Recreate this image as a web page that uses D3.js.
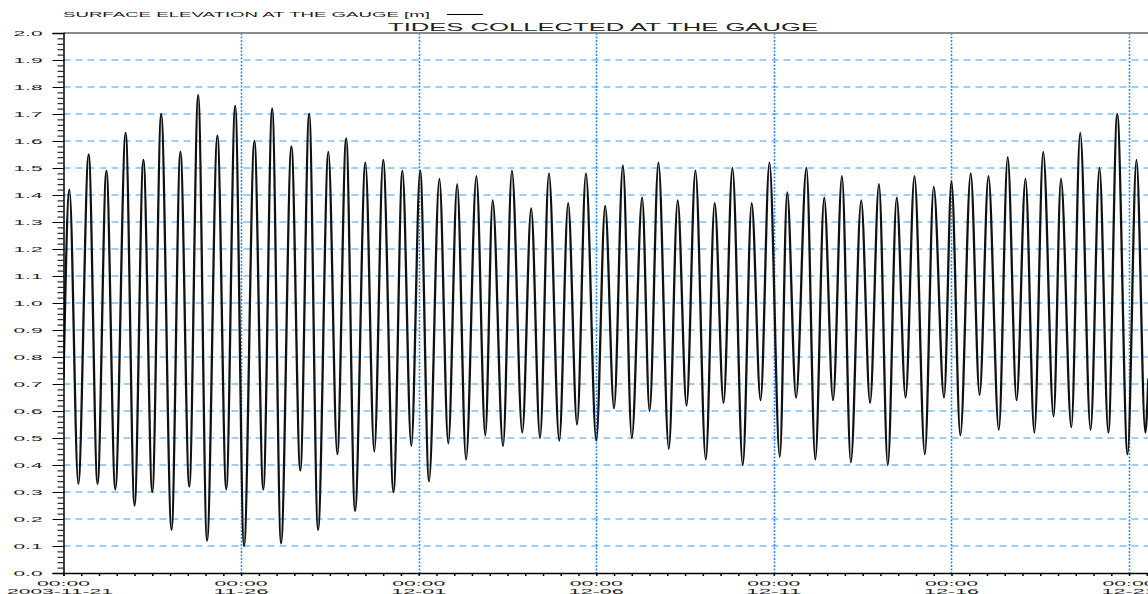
<!DOCTYPE html>
<html>
<head>
<meta charset="utf-8">
<script src="https://cdn.jsdelivr.net/npm/d3@7/dist/d3.min.js"></script>
<style>
  html, body { margin: 0; padding: 0; background: #fff; overflow: hidden; }
  text { font-family: "Liberation Sans", Arial, sans-serif; fill: #222; }
</style>
</head>
<body>
<figure id="tides" style="margin:0"></figure>
<script>
// hours after 2003-11-21 00:00 and level [m] of each high / low water
const highHours = [4, 17, 29, 42, 54, 66, 79, 91, 104, 116, 129, 141, 154, 166, 179, 191, 204, 216, 229, 241,
  254, 266, 279, 290, 303, 316, 328, 341, 353, 366, 378, 391, 402, 415, 427, 440, 452, 465, 477, 489,
  502, 514, 526, 539, 551, 563, 575, 588, 600, 613, 625, 638, 650, 662, 674, 687, 700, 712, 725];
const highLevels = [1.42, 1.55, 1.49, 1.63, 1.53, 1.70, 1.56, 1.77, 1.62, 1.73, 1.60, 1.72, 1.58, 1.70, 1.56, 1.61, 1.52, 1.53, 1.49, 1.49,
  1.46, 1.44, 1.47, 1.38, 1.49, 1.35, 1.48, 1.37, 1.48, 1.36, 1.51, 1.39, 1.52, 1.38, 1.49, 1.37, 1.50, 1.37, 1.52, 1.41,
  1.50, 1.39, 1.47, 1.38, 1.44, 1.39, 1.47, 1.43, 1.45, 1.48, 1.47, 1.54, 1.46, 1.56, 1.46, 1.63, 1.50, 1.70, 1.53];
const lowHours = [10, 23, 35, 48, 60, 73, 85, 97, 110, 122, 135, 147, 160, 172, 185, 197, 210, 223, 235, 247,
  260, 272, 285, 297, 310, 322, 335, 347, 360, 372, 384, 396, 409, 421, 434, 446, 459, 471, 484, 495,
  508, 520, 532, 545, 557, 569, 582, 595, 606, 619, 632, 644, 656, 669, 681, 694, 706, 719, 731];
const lowLevels = [0.33, 0.33, 0.31, 0.25, 0.30, 0.16, 0.32, 0.12, 0.31, 0.10, 0.31, 0.11, 0.38, 0.16, 0.44, 0.23, 0.45, 0.30, 0.47, 0.34,
  0.48, 0.42, 0.51, 0.47, 0.52, 0.50, 0.49, 0.55, 0.49, 0.61, 0.50, 0.60, 0.46, 0.62, 0.42, 0.63, 0.40, 0.64, 0.43, 0.65,
  0.42, 0.64, 0.41, 0.63, 0.40, 0.65, 0.44, 0.65, 0.51, 0.66, 0.53, 0.64, 0.52, 0.58, 0.54, 0.53, 0.52, 0.44, 0.52];
// first and last sample of the record
const edgeHours = [0, 733];
const edgeLevels = [0.72, 0.72];

const yTicks = d3.range(0, 21).map(i => i / 10);
const dateLabels = ["2003-11-21", "11-26", "12-01", "12-06", "12-11", "12-16", "12-21"];

const width = 1148, height = 594;
const plotLeft = 63.5, plotRight = 1148, plotTop = 33, plotBottom = 573;
const start = new Date(Date.UTC(2003, 10, 21));
const hour = 3600 * 1000;

const samples = [];
edgeHours.forEach((h, i) => samples.push({ h: h, v: edgeLevels[i] }));
highHours.forEach((h, i) => samples.push({ h: h, v: highLevels[i] }));
lowHours.forEach((h, i) => samples.push({ h: h, v: lowLevels[i] }));
samples.sort((a, b) => a.h - b.h);

const x = d3.scaleUtc()
  .domain([start, new Date(start.getTime() + 732.8 * hour)])
  .range([plotLeft, plotRight]);
const y = d3.scaleLinear().domain([0, 2]).range([plotBottom, plotTop]);

const svg = d3.select("#tides").append("svg")
  .attr("width", width).attr("height", height)
  .style("display", "block");

// header (legend) and title
svg.append("text")
  .attr("x", 63).attr("y", 17)
  .attr("textLength", 367).attr("lengthAdjust", "spacingAndGlyphs")
  .style("font-size", "7.5px")
  .text("SURFACE ELEVATION AT THE GAUGE [m]");
svg.append("line")
  .attr("x1", 447).attr("x2", 483).attr("y1", 14.5).attr("y2", 14.5)
  .attr("stroke", "#000").attr("stroke-width", 1);
svg.append("text")
  .attr("x", 388).attr("y", 31)
  .attr("textLength", 430).attr("lengthAdjust", "spacingAndGlyphs")
  .style("font-size", "11px").style("font-weight", "300")
  .text("TIDES COLLECTED AT THE GAUGE");

// grid
const dayTicks = dateLabels.map((d, i) => new Date(start.getTime() + i * 5 * 24 * hour));
svg.append("g").selectAll("line")
  .data(yTicks.filter(t => t > 0 && t < 2))
  .enter().append("line")
  .attr("x1", plotLeft).attr("x2", plotRight)
  .attr("y1", d => y(d)).attr("y2", d => y(d))
  .attr("stroke", "#3d9cf5").attr("stroke-width", 1)
  .attr("stroke-dasharray", "7,5");
svg.append("g").selectAll("line")
  .data(dayTicks.slice(1))
  .enter().append("line")
  .attr("x1", d => Math.round(x(d)) + 0.5).attr("x2", d => Math.round(x(d)) + 0.5)
  .attr("y1", plotTop).attr("y2", plotBottom)
  .attr("stroke", "#2a8af5").attr("stroke-width", 1.6)
  .attr("stroke-dasharray", "2,1.5");

// top frame
svg.append("line")
  .attr("x1", plotLeft).attr("x2", plotRight).attr("y1", plotTop).attr("y2", plotTop)
  .attr("stroke", "#8a8a8a").attr("stroke-width", 2);

// the tide record
const line = d3.line()
  .x(d => x(new Date(start.getTime() + d.h * hour)))
  .y(d => y(d.v))
  .curve(d3.curveMonotoneX);
svg.append("clipPath").attr("id", "plotClip")
  .append("rect").attr("x", plotLeft).attr("y", plotTop)
  .attr("width", plotRight - plotLeft).attr("height", plotBottom - plotTop);
svg.append("path")
  .datum(samples)
  .attr("clip-path", "url(#plotClip)")
  .attr("d", line)
  .attr("fill", "none")
  .attr("stroke", "#111")
  .attr("stroke-width", 2.3);

// y axis: minor ticks every 0.02, major every 0.1
svg.append("g")
  .attr("transform", "translate(" + plotLeft + ",0)")
  .call(d3.axisLeft(y).tickValues(d3.range(0, 101).map(i => i / 50)).tickSize(6).tickFormat(""))
  .call(g => g.select(".domain").remove());
const yAxis = svg.append("g")
  .attr("transform", "translate(" + plotLeft + ",0)")
  .call(d3.axisLeft(y).tickValues(yTicks).tickSize(11).tickFormat(d3.format(".1f")).tickPadding(10));
yAxis.select(".domain").attr("stroke", "#000").attr("stroke-width", 1.5);
yAxis.selectAll("text")
  .attr("x", -21).attr("dy", "0.35em")
  .attr("textLength", 29).attr("lengthAdjust", "spacingAndGlyphs")
  .style("font-size", "8px").style("font-family", "Liberation Sans, Arial, sans-serif").style("fill", "#222");

// x axis: ticks every 12 hours, labels every 5 days
const xAxis = svg.append("g")
  .attr("transform", "translate(0," + plotBottom + ")")
  .call(d3.axisBottom(x).ticks(d3.utcHour.every(12)).tickSize(3).tickFormat(""));
xAxis.select(".domain").attr("stroke", "#000").attr("stroke-width", 1.5);
xAxis.selectAll(".tick line").attr("stroke-width", 1.5);

const labels = svg.append("g").selectAll("g")
  .data(dayTicks)
  .enter().append("g")
  .attr("transform", d => "translate(" + x(d) + ",0)");
labels.append("text")
  .attr("x", -26.5).attr("y", 585.5)
  .attr("textLength", 53).attr("lengthAdjust", "spacingAndGlyphs")
  .style("font-size", "8px")
  .text("00:00");
labels.append("text")
  .attr("x", (d, i) => i === 0 ? -56.5 : -27.5).attr("y", 593.5)
  .attr("textLength", (d, i) => i === 0 ? 106 : 55).attr("lengthAdjust", "spacingAndGlyphs")
  .style("font-size", "8px")
  .text((d, i) => dateLabels[i]);
</script>
</body>
</html>
